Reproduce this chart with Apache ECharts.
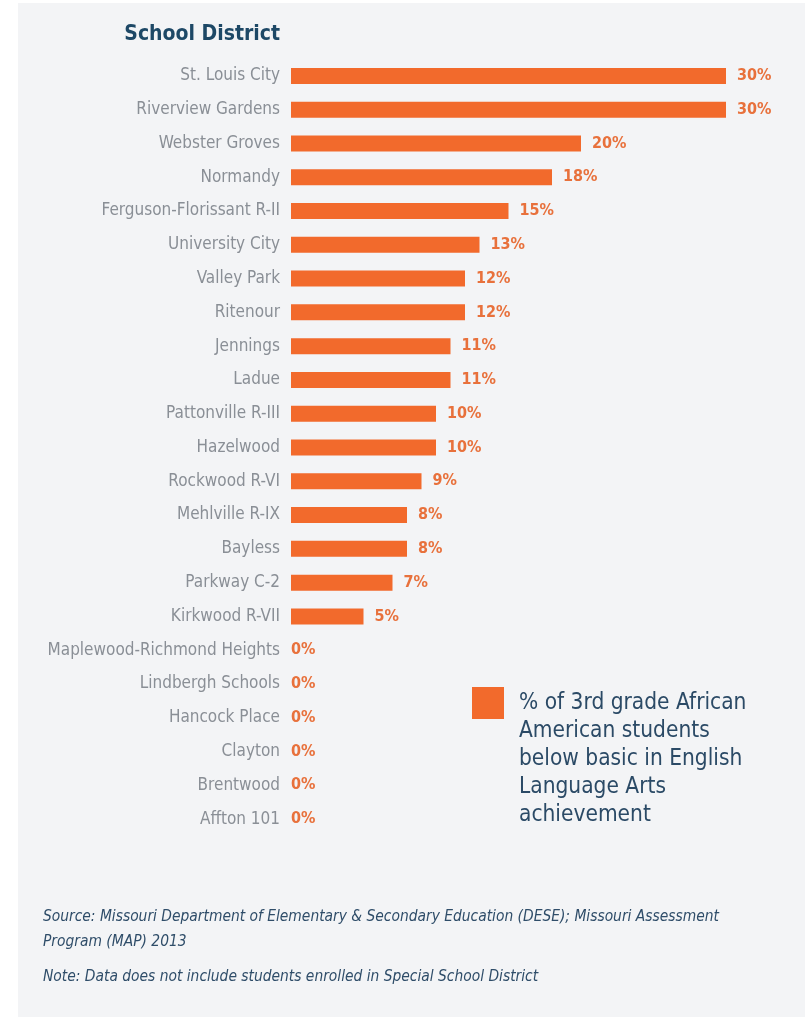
<!DOCTYPE html>
<html><head><meta charset="utf-8">
<script src="https://cdn.jsdelivr.net/npm/echarts@6/dist/echarts.min.js"></script>
<style>html,body{margin:0;padding:0;background:#fff}#c{width:807px;height:1019px}</style>
</head><body><div id="c"></div>
<script>
const districts = ["St. Louis City","Riverview Gardens","Webster Groves","Normandy","Ferguson-Florissant R-II","University City","Valley Park","Ritenour","Jennings","Ladue","Pattonville R-III","Hazelwood","Rockwood R-VI","Mehlville R-IX","Bayless","Parkway C-2","Kirkwood R-VII","Maplewood-Richmond Heights","Lindbergh Schools","Hancock Place","Clayton","Brentwood","Affton 101"];
const belowBasicPct = [30,30,20,18,15,13,12,12,11,11,10,10,9,8,8,7,5,0,0,0,0,0,0];
const seriesName = "% of 3rd grade African\nAmerican students\nbelow basic in English\nLanguage Arts\nachievement";
const titleText = "School District";
const sourceText = "Source: Missouri Department of Elementary & Secondary Education (DESE); Missouri Assessment";
const sourceText2 = "Program (MAP) 2013";
const noteText = "Note: Data does not include students enrolled in Special School District";

const FONT = '"Liberation Sans Narrow","DejaVu Sans Condensed","Roboto",sans-serif';
const chart = echarts.init(document.getElementById('c'), null, {renderer:'canvas'});
const barData = belowBasicPct.map(v => v === 0 ? {value: v, label: {distance: 0}} : v);
chart.setOption({
  backgroundColor: '#ffffff',
  animation: false,
  graphic: [
    {type:'rect', z:-10, silent:true, shape:{x:18,y:3,width:787,height:1014}, style:{fill:'#f3f4f6'}},
    {type:'text', left:43, top:909, style:{text:sourceText, fill:'#2f4d69', font:'italic 15.4px '+FONT}},
    {type:'text', left:43, top:934, style:{text:sourceText2, fill:'#2f4d69', font:'italic 15.4px '+FONT}},
    {type:'text', left:43, top:969, style:{text:noteText, fill:'#2f4d69', font:'italic 15.4px '+FONT}}
  ],
  title: {
    text: titleText, right: 522, top: 19,
    textStyle: {fontFamily: FONT, fontWeight:'bold', fontSize:21, color:'#1d4866'}
  },
  legend: {
    data: [seriesName], left: 472, top: 574, padding: 0,
    icon: 'rect', itemWidth: 32, itemHeight: 32, itemGap: 0,
    formatter: name => '\n\n\n\n' + name,
    textStyle: {fontFamily: FONT, fontSize: 22.5, lineHeight: 28, color:'#2b4a66', padding:[0,0,6,10]}
  },
  grid: {left: 291, top: 59, width: 435, height: 777},
  xAxis: {type:'value', min:0, max:30, show:false},
  yAxis: {
    type:'category', data: districts, inverse: true,
    axisLine:{show:false}, axisTick:{show:false},
    axisLabel:{margin:11, color:'#8a8f96', fontFamily: FONT, fontSize:17}
  },
  series: [{
    type:'bar', name: seriesName, data: barData, barWidth: 16,
    itemStyle:{color:'#f26a2c'},
    label:{show:true, position:'right', distance:11, formatter:'{c}%', color:'#e8713c', fontFamily: FONT, fontWeight:'bold', fontSize:16}
  }]
});
</script></body></html>
